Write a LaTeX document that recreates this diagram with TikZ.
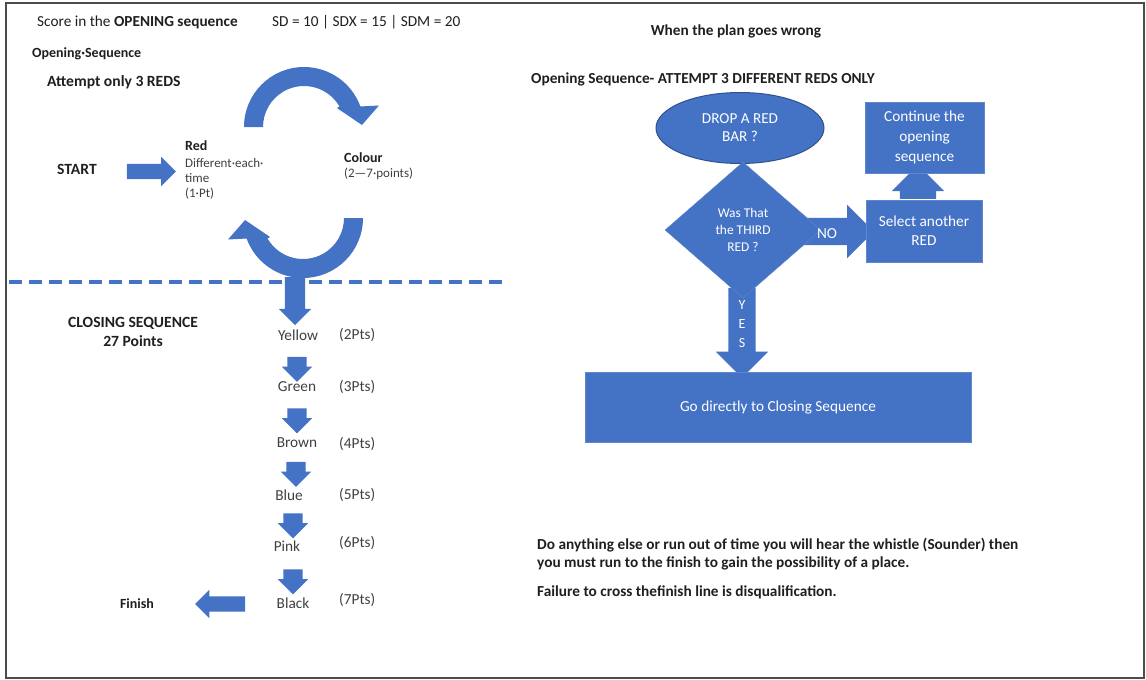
\documentclass[tikz,border=0pt]{standalone}
\usepackage{fontspec}
\setmainfont{Carlito}
\usetikzlibrary{shapes.geometric,shapes.arrows}
\definecolor{boxblue}{HTML}{4472C4}
\definecolor{edgeblue}{HTML}{2F528F}
\definecolor{ink}{HTML}{1F1F1F}
\definecolor{softink}{HTML}{404040}

\begin{document}
\begin{tikzpicture}[x=1pt, y=-1pt,
    lbl/.style={inner sep=0pt, text=ink, font=\fontsize{15.3}{18}\selectfont},
    hdr/.style={inner sep=0pt, text=ink, font=\fontsize{15.3}{18}\selectfont\bfseries},
    note/.style={inner sep=0pt, text=softink, font=\fontsize{13}{16}\selectfont},
    ball/.style={inner sep=0pt, text=softink, font=\fontsize{15.3}{18}\selectfont},
    blockarr/.style 2 args={single arrow, fill=boxblue, draw=none, inner xsep=0pt, inner ysep=#1,
      single arrow head extend=#2},
    flowbox/.style={rectangle, fill=boxblue, draw=boxblue!85!white, text=white, align=center,
      inner sep=0pt, font=\fontsize{15.3}{19}\selectfont},
    curvarr/.style={fill=boxblue},
    dashline/.style={draw=boxblue, line width=4pt, dash pattern=on 13pt off 7pt}
  ]
  \useasboundingbox (0,0) rectangle (1146,680);
  \draw[black!70, line width=2pt] (6,3) rectangle (1143.5,678);

  % opening loop
  \begin{scope}[shift={(304,127)}, yscale=-1]
    \fill[curvarr] (180:60) arc[start angle=180, end angle=20, radius=60] -- (16:78) -- (2:58)
      -- (30:38) -- (30:41) arc[start angle=30, end angle=180, radius=41] -- cycle;
  \end{scope}
  \begin{scope}[shift={(303,218)}, yscale=-1, rotate=180]
    \fill[curvarr] (180:60) arc[start angle=180, end angle=20, radius=60] -- (16:78) -- (2:58)
      -- (30:38) -- (30:41) arc[start angle=30, end angle=180, radius=41] -- cycle;
  \end{scope}

  \node[lbl, anchor=west] (score) at (37,22) {Score in the \textbf{OPENING sequence}};
  \node[lbl, anchor=west] (sd) at (272,22) {SD = 10 | SDX = 15 | SDM = 20};
  \node[hdr, anchor=west, font=\fontsize{14}{16}\selectfont\bfseries] (opseq) at (32,54) {Opening·Sequence};
  \node[hdr, anchor=west, font=\fontsize{15.6}{18}\selectfont\bfseries] (attempt) at (47,82) {Attempt only 3 REDS};
  \node[hdr, anchor=west, font=\fontsize{15.6}{18}\selectfont\bfseries] (start) at (57,169) {START};
  \node[blockarr={7.5}{7}, minimum height=49] (startarr) at (147.5,171.5) {};
  \node[hdr, anchor=west, font=\fontsize{14}{16}\selectfont\bfseries] (red) at (185,146) {Red};
  \node[note, anchor=west] (red1) at (185,163) {Different·each·};
  \node[note, anchor=west] (red2) at (185,178) {time};
  \node[note, anchor=west] (red3) at (185,194) {(1·Pt)};
  \node[hdr, anchor=west, font=\fontsize{14}{16}\selectfont\bfseries] (colour) at (344,158) {Colour};
  \node[note, anchor=west] (colpts) at (344,174) {(2—7·points)};

  \draw[dashline] (9,282) -- (505,282);

  % closing sequence
  \node[hdr, font=\fontsize{15.6}{18}\selectfont\bfseries] (closing) at (133,323) {CLOSING SEQUENCE};
  \node[hdr, font=\fontsize{15.6}{18}\selectfont\bfseries] (pts27) at (133,341) {27 Points};
  \node[blockarr={10}{6}, rotate=-90, minimum height=48] (arr0) at (295,296) {};
  \node[ball] (yellow) at (298,335) {Yellow};
  \node[ball, anchor=west] (yellowpts) at (339,335) {(2Pts)};
  \node[blockarr={9.5}{5.5}, rotate=-90, minimum height=25] (arr1) at (297,364.5) {};
  \node[ball] (green) at (297,387) {Green};
  \node[ball, anchor=west] (greenpts) at (339,387) {(3Pts)};
  \node[blockarr={9.5}{5.5}, rotate=-90, minimum height=25] (arr2) at (297,416) {};
  \node[ball] (brown) at (297,443) {Brown};
  \node[ball, anchor=west] (brownpts) at (339,444) {(4Pts)};
  \node[blockarr={9.5}{5.5}, rotate=-90, minimum height=25] (arr3) at (296,469.5) {};
  \node[ball] (blue) at (289,495) {Blue};
  \node[ball, anchor=west] (bluepts) at (339,495) {(5Pts)};
  \node[blockarr={9.5}{5.5}, rotate=-90, minimum height=25] (arr4) at (293,521) {};
  \node[ball] (pink) at (287,546) {Pink};
  \node[ball, anchor=west] (pinkpts) at (339,543) {(6Pts)};
  \node[blockarr={9.5}{5.5}, rotate=-90, minimum height=25] (arr5) at (293,577) {};
  \node[ball] (black) at (293,603) {Black};
  \node[ball, anchor=west] (blackpts) at (339,600) {(7Pts)};
  \node[blockarr={7.5}{6.5}, rotate=180, minimum height=50] (finarr) at (224,604) {};
  \node[hdr, font=\fontsize{14}{16}\selectfont\bfseries] (finish) at (137,604) {Finish};

  % when the plan goes wrong
  \node[hdr] (plan) at (736,31) {When the plan goes wrong};
  \node[hdr, anchor=west] (opseqb) at (531,79) {Opening Sequence- ATTEMPT 3 DIFFERENT REDS ONLY};
  \node[blockarr={13.5}{13}, minimum height=72] (noarr) at (831,231.5) {};
  \node[blockarr={13.5}{12.5}, rotate=-90, minimum height=90] (yesarr) at (742,326) {};
  \node[blockarr={18}{8}, rotate=90, minimum height=34] (uparr) at (918,191) {};
  \node[ellipse, fill=boxblue, draw=edgeblue, line width=1pt, minimum width=168, minimum height=71,
    inner sep=0pt, text=white, align=center, font=\fontsize{15.2}{18}\selectfont] (drop) at (740,128) {DROP A RED\\BAR ?};
  \node[diamond, fill=boxblue, draw=boxblue!85!white, minimum width=156, minimum height=136,
    inner sep=0pt, text=white, align=center, font=\fontsize{13.4}{17}\selectfont] (third) at (743,230) {Was That\\the THIRD\\RED ?};
  \node[flowbox, minimum width=116, minimum height=62] (select) at (924,231) {Select another\\RED};
  \node[flowbox, minimum width=119, minimum height=71, font=\fontsize{15.3}{20}\selectfont] (cont) at (924.5,137.5) {Continue the\\opening\\sequence};
  \node[flowbox, minimum width=386, minimum height=70] (go) at (778,407) {Go directly to Closing Sequence};
  \node[text=white, inner sep=0pt, font=\fontsize{15.3}{18}\selectfont] (no) at (827,234) {NO};
  \node[text=white, inner sep=0pt, align=center, font=\fontsize{14}{19}\selectfont] (yes) at (742,324) {Y\\E\\S};

  \node[hdr, anchor=west] (rule1) at (537,545) {Do anything else or run out of time you will hear the whistle (Sounder) then};
  \node[hdr, anchor=west] (rule2) at (537,563) {you must run to the finish to gain the possibility of a place.};
  \node[hdr, anchor=west] (rule3) at (537,592) {Failure to cross thefinish line is disqualification.};
\end{tikzpicture}
\end{document}
